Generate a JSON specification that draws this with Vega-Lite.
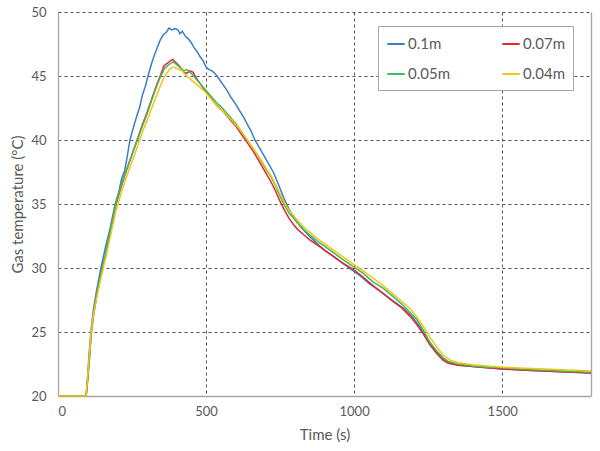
{
"$schema":"https://vega.github.io/schema/vega-lite/v6.json",
"width":533,"height":384,
"autosize":{"type":"none"},
"padding":{"left":58,"top":12,"right":9,"bottom":55},
"background":"white",
"config":{"view":{"stroke":null},"font":"Lato",
"axis":{"labelFont":"Lato","titleFont":"Lato","labelFontSize":13,"titleFontSize":15,"labelColor":"#595959","titleColor":"#595959","titleFontWeight":"normal","ticks":false,"domainColor":"#a6a6a6","domainWidth":1.3,"gridColor":"#555555","gridDash":[3,3],"gridWidth":1}},
"data":{"values":[
{"s":"0.1m","t":0,"T":20},{"s":"0.1m","t":95,"T":20},{"s":"0.1m","t":100,"T":21.5},{"s":"0.1m","t":105,"T":23.3},{"s":"0.1m","t":111,"T":25},{"s":"0.1m","t":120,"T":26.8},{"s":"0.1m","t":130,"T":28.2},{"s":"0.1m","t":145,"T":30},{"s":"0.1m","t":160,"T":31.6},{"s":"0.1m","t":175,"T":33},{"s":"0.1m","t":193,"T":35},{"s":"0.1m","t":205,"T":35.9},{"s":"0.1m","t":215,"T":37},{"s":"0.1m","t":225,"T":37.6},{"s":"0.1m","t":233,"T":38.6},{"s":"0.1m","t":243,"T":40},{"s":"0.1m","t":255,"T":41},{"s":"0.1m","t":265,"T":41.8},{"s":"0.1m","t":275,"T":42.5},{"s":"0.1m","t":285,"T":43.5},{"s":"0.1m","t":295,"T":44.2},{"s":"0.1m","t":304,"T":45},{"s":"0.1m","t":315,"T":45.9},{"s":"0.1m","t":325,"T":46.6},{"s":"0.1m","t":335,"T":47.2},{"s":"0.1m","t":345,"T":47.8},{"s":"0.1m","t":355,"T":48.2},{"s":"0.1m","t":365,"T":48.4},{"s":"0.1m","t":375,"T":48.75},{"s":"0.1m","t":385,"T":48.6},{"s":"0.1m","t":395,"T":48.7},{"s":"0.1m","t":405,"T":48.6},{"s":"0.1m","t":412,"T":48.3},{"s":"0.1m","t":420,"T":48.5},{"s":"0.1m","t":430,"T":48.1},{"s":"0.1m","t":440,"T":47.9},{"s":"0.1m","t":450,"T":47.6},{"s":"0.1m","t":460,"T":47.2},{"s":"0.1m","t":470,"T":46.9},{"s":"0.1m","t":480,"T":46.5},{"s":"0.1m","t":490,"T":46.2},{"s":"0.1m","t":500,"T":45.7},{"s":"0.1m","t":510,"T":45.5},{"s":"0.1m","t":520,"T":45.4},{"s":"0.1m","t":530,"T":45.2},{"s":"0.1m","t":540,"T":44.9},{"s":"0.1m","t":555,"T":44.4},{"s":"0.1m","t":570,"T":43.9},{"s":"0.1m","t":585,"T":43.3},{"s":"0.1m","t":600,"T":42.8},{"s":"0.1m","t":613,"T":42.3},{"s":"0.1m","t":626,"T":41.8},{"s":"0.1m","t":640,"T":41.2},{"s":"0.1m","t":652,"T":40.7},{"s":"0.1m","t":665,"T":40},{"s":"0.1m","t":680,"T":39.4},{"s":"0.1m","t":695,"T":38.8},{"s":"0.1m","t":710,"T":38.2},{"s":"0.1m","t":727,"T":37.5},{"s":"0.1m","t":745,"T":36.5},{"s":"0.1m","t":762,"T":35.5},{"s":"0.1m","t":780,"T":34.6},{"s":"0.1m","t":800,"T":33.8},{"s":"0.1m","t":820,"T":33.2},{"s":"0.1m","t":840,"T":32.7},{"s":"0.1m","t":870,"T":32},{"s":"0.1m","t":900,"T":31.4},{"s":"0.1m","t":930,"T":30.9},{"s":"0.1m","t":960,"T":30.4},{"s":"0.1m","t":990,"T":29.9},{"s":"0.1m","t":1020,"T":29.4},{"s":"0.1m","t":1050,"T":28.8},{"s":"0.1m","t":1080,"T":28.3},{"s":"0.1m","t":1110,"T":27.8},{"s":"0.1m","t":1140,"T":27.3},{"s":"0.1m","t":1170,"T":26.8},{"s":"0.1m","t":1200,"T":26.1},{"s":"0.1m","t":1225,"T":25.3},{"s":"0.1m","t":1250,"T":24.3},{"s":"0.1m","t":1275,"T":23.5},{"s":"0.1m","t":1300,"T":22.9},{"s":"0.1m","t":1320,"T":22.6},{"s":"0.1m","t":1350,"T":22.45},{"s":"0.1m","t":1400,"T":22.3},{"s":"0.1m","t":1450,"T":22.2},{"s":"0.1m","t":1500,"T":22.1},{"s":"0.1m","t":1600,"T":22.0},{"s":"0.1m","t":1700,"T":21.9},{"s":"0.1m","t":1800,"T":21.8},
{"s":"0.07m","t":0,"T":20},{"s":"0.07m","t":95,"T":20},{"s":"0.07m","t":100,"T":21.2},{"s":"0.07m","t":106,"T":22.8},{"s":"0.07m","t":112,"T":24.8},{"s":"0.07m","t":120,"T":26.3},{"s":"0.07m","t":130,"T":27.7},{"s":"0.07m","t":140,"T":28.9},{"s":"0.07m","t":150,"T":30},{"s":"0.07m","t":165,"T":31.5},{"s":"0.07m","t":180,"T":33.2},{"s":"0.07m","t":195,"T":34.9},{"s":"0.07m","t":210,"T":36.1},{"s":"0.07m","t":225,"T":37.2},{"s":"0.07m","t":240,"T":38.2},{"s":"0.07m","t":255,"T":39.2},{"s":"0.07m","t":270,"T":40.2},{"s":"0.07m","t":285,"T":41.2},{"s":"0.07m","t":300,"T":42.1},{"s":"0.07m","t":315,"T":43.1},{"s":"0.07m","t":330,"T":44.1},{"s":"0.07m","t":345,"T":45},{"s":"0.07m","t":358,"T":45.8},{"s":"0.07m","t":370,"T":46.0},{"s":"0.07m","t":380,"T":46.2},{"s":"0.07m","t":388,"T":46.3},{"s":"0.07m","t":395,"T":46.1},{"s":"0.07m","t":405,"T":45.9},{"s":"0.07m","t":415,"T":45.6},{"s":"0.07m","t":425,"T":45.3},{"s":"0.07m","t":435,"T":45.2},{"s":"0.07m","t":445,"T":45.4},{"s":"0.07m","t":456,"T":45.3},{"s":"0.07m","t":465,"T":44.9},{"s":"0.07m","t":480,"T":44.4},{"s":"0.07m","t":495,"T":43.9},{"s":"0.07m","t":510,"T":43.5},{"s":"0.07m","t":525,"T":43.0},{"s":"0.07m","t":540,"T":42.6},{"s":"0.07m","t":555,"T":42.3},{"s":"0.07m","t":570,"T":41.9},{"s":"0.07m","t":585,"T":41.5},{"s":"0.07m","t":600,"T":41.1},{"s":"0.07m","t":615,"T":40.6},{"s":"0.07m","t":630,"T":40.1},{"s":"0.07m","t":645,"T":39.6},{"s":"0.07m","t":660,"T":39.1},{"s":"0.07m","t":675,"T":38.5},{"s":"0.07m","t":690,"T":37.9},{"s":"0.07m","t":705,"T":37.3},{"s":"0.07m","t":720,"T":36.7},{"s":"0.07m","t":735,"T":36.0},{"s":"0.07m","t":750,"T":35.2},{"s":"0.07m","t":765,"T":34.5},{"s":"0.07m","t":780,"T":33.9},{"s":"0.07m","t":795,"T":33.4},{"s":"0.07m","t":810,"T":33.0},{"s":"0.07m","t":830,"T":32.6},{"s":"0.07m","t":850,"T":32.2},{"s":"0.07m","t":875,"T":31.8},{"s":"0.07m","t":900,"T":31.4},{"s":"0.07m","t":930,"T":30.9},{"s":"0.07m","t":960,"T":30.4},{"s":"0.07m","t":997,"T":29.9},{"s":"0.07m","t":1030,"T":29.3},{"s":"0.07m","t":1065,"T":28.6},{"s":"0.07m","t":1099,"T":28.0},{"s":"0.07m","t":1130,"T":27.4},{"s":"0.07m","t":1160,"T":26.9},{"s":"0.07m","t":1190,"T":26.2},{"s":"0.07m","t":1211,"T":25.6},{"s":"0.07m","t":1235,"T":24.8},{"s":"0.07m","t":1256,"T":24.0},{"s":"0.07m","t":1280,"T":23.3},{"s":"0.07m","t":1300,"T":22.8},{"s":"0.07m","t":1318,"T":22.55},{"s":"0.07m","t":1350,"T":22.4},{"s":"0.07m","t":1400,"T":22.3},{"s":"0.07m","t":1450,"T":22.2},{"s":"0.07m","t":1500,"T":22.1},{"s":"0.07m","t":1600,"T":22.0},{"s":"0.07m","t":1700,"T":21.9},{"s":"0.07m","t":1800,"T":21.8},
{"s":"0.05m","t":0,"T":20},{"s":"0.05m","t":95,"T":20},{"s":"0.05m","t":100,"T":21.3},{"s":"0.05m","t":106,"T":23},{"s":"0.05m","t":112,"T":25},{"s":"0.05m","t":120,"T":26.5},{"s":"0.05m","t":130,"T":27.8},{"s":"0.05m","t":140,"T":29},{"s":"0.05m","t":150,"T":30},{"s":"0.05m","t":165,"T":31.6},{"s":"0.05m","t":180,"T":33.3},{"s":"0.05m","t":195,"T":35},{"s":"0.05m","t":210,"T":36.2},{"s":"0.05m","t":225,"T":37.3},{"s":"0.05m","t":240,"T":38.2},{"s":"0.05m","t":255,"T":39.2},{"s":"0.05m","t":270,"T":40.1},{"s":"0.05m","t":285,"T":41.1},{"s":"0.05m","t":300,"T":42},{"s":"0.05m","t":315,"T":43},{"s":"0.05m","t":330,"T":44},{"s":"0.05m","t":345,"T":44.9},{"s":"0.05m","t":360,"T":45.6},{"s":"0.05m","t":375,"T":45.9},{"s":"0.05m","t":388,"T":46.1},{"s":"0.05m","t":395,"T":46.0},{"s":"0.05m","t":405,"T":45.8},{"s":"0.05m","t":415,"T":45.6},{"s":"0.05m","t":425,"T":45.4},{"s":"0.05m","t":435,"T":45.5},{"s":"0.05m","t":445,"T":45.3},{"s":"0.05m","t":455,"T":45.1},{"s":"0.05m","t":465,"T":44.8},{"s":"0.05m","t":480,"T":44.4},{"s":"0.05m","t":495,"T":44.0},{"s":"0.05m","t":510,"T":43.6},{"s":"0.05m","t":525,"T":43.2},{"s":"0.05m","t":540,"T":42.8},{"s":"0.05m","t":555,"T":42.5},{"s":"0.05m","t":570,"T":42.1},{"s":"0.05m","t":585,"T":41.7},{"s":"0.05m","t":600,"T":41.3},{"s":"0.05m","t":615,"T":40.8},{"s":"0.05m","t":630,"T":40.3},{"s":"0.05m","t":645,"T":39.8},{"s":"0.05m","t":660,"T":39.3},{"s":"0.05m","t":675,"T":38.8},{"s":"0.05m","t":690,"T":38.2},{"s":"0.05m","t":705,"T":37.6},{"s":"0.05m","t":720,"T":37.1},{"s":"0.05m","t":735,"T":36.4},{"s":"0.05m","t":750,"T":35.6},{"s":"0.05m","t":765,"T":34.9},{"s":"0.05m","t":780,"T":34.3},{"s":"0.05m","t":795,"T":33.9},{"s":"0.05m","t":810,"T":33.5},{"s":"0.05m","t":830,"T":33.0},{"s":"0.05m","t":850,"T":32.6},{"s":"0.05m","t":875,"T":32.1},{"s":"0.05m","t":900,"T":31.7},{"s":"0.05m","t":930,"T":31.2},{"s":"0.05m","t":960,"T":30.7},{"s":"0.05m","t":997,"T":30.1},{"s":"0.05m","t":1030,"T":29.6},{"s":"0.05m","t":1065,"T":28.9},{"s":"0.05m","t":1099,"T":28.4},{"s":"0.05m","t":1130,"T":27.8},{"s":"0.05m","t":1160,"T":27.2},{"s":"0.05m","t":1190,"T":26.5},{"s":"0.05m","t":1211,"T":26},{"s":"0.05m","t":1235,"T":25.1},{"s":"0.05m","t":1256,"T":24.2},{"s":"0.05m","t":1280,"T":23.5},{"s":"0.05m","t":1300,"T":23.0},{"s":"0.05m","t":1318,"T":22.7},{"s":"0.05m","t":1350,"T":22.5},{"s":"0.05m","t":1400,"T":22.35},{"s":"0.05m","t":1450,"T":22.25},{"s":"0.05m","t":1500,"T":22.2},{"s":"0.05m","t":1600,"T":22.05},{"s":"0.05m","t":1700,"T":21.95},{"s":"0.05m","t":1800,"T":21.85},
{"s":"0.04m","t":0,"T":20},{"s":"0.04m","t":95,"T":20},{"s":"0.04m","t":100,"T":21.5},{"s":"0.04m","t":106,"T":23.2},{"s":"0.04m","t":112,"T":25.1},{"s":"0.04m","t":120,"T":26.4},{"s":"0.04m","t":130,"T":27.6},{"s":"0.04m","t":140,"T":28.7},{"s":"0.04m","t":150,"T":29.7},{"s":"0.04m","t":165,"T":31.2},{"s":"0.04m","t":180,"T":32.8},{"s":"0.04m","t":195,"T":34.4},{"s":"0.04m","t":210,"T":35.6},{"s":"0.04m","t":225,"T":36.7},{"s":"0.04m","t":240,"T":37.7},{"s":"0.04m","t":255,"T":38.6},{"s":"0.04m","t":270,"T":39.6},{"s":"0.04m","t":285,"T":40.6},{"s":"0.04m","t":300,"T":41.5},{"s":"0.04m","t":315,"T":42.4},{"s":"0.04m","t":330,"T":43.3},{"s":"0.04m","t":345,"T":44.2},{"s":"0.04m","t":358,"T":44.9},{"s":"0.04m","t":370,"T":45.3},{"s":"0.04m","t":380,"T":45.6},{"s":"0.04m","t":390,"T":45.7},{"s":"0.04m","t":400,"T":45.6},{"s":"0.04m","t":410,"T":45.5},{"s":"0.04m","t":420,"T":45.4},{"s":"0.04m","t":430,"T":45.1},{"s":"0.04m","t":440,"T":44.9},{"s":"0.04m","t":450,"T":44.7},{"s":"0.04m","t":465,"T":44.4},{"s":"0.04m","t":480,"T":44.1},{"s":"0.04m","t":495,"T":43.8},{"s":"0.04m","t":510,"T":43.4},{"s":"0.04m","t":525,"T":43.0},{"s":"0.04m","t":540,"T":42.6},{"s":"0.04m","t":555,"T":42.3},{"s":"0.04m","t":570,"T":41.9},{"s":"0.04m","t":585,"T":41.6},{"s":"0.04m","t":600,"T":41.2},{"s":"0.04m","t":615,"T":40.8},{"s":"0.04m","t":630,"T":40.3},{"s":"0.04m","t":645,"T":39.8},{"s":"0.04m","t":660,"T":39.3},{"s":"0.04m","t":675,"T":38.8},{"s":"0.04m","t":690,"T":38.3},{"s":"0.04m","t":705,"T":37.7},{"s":"0.04m","t":720,"T":37.2},{"s":"0.04m","t":735,"T":36.5},{"s":"0.04m","t":750,"T":35.8},{"s":"0.04m","t":765,"T":35.1},{"s":"0.04m","t":780,"T":34.5},{"s":"0.04m","t":795,"T":34.1},{"s":"0.04m","t":810,"T":33.7},{"s":"0.04m","t":830,"T":33.2},{"s":"0.04m","t":850,"T":32.8},{"s":"0.04m","t":875,"T":32.3},{"s":"0.04m","t":900,"T":31.9},{"s":"0.04m","t":930,"T":31.4},{"s":"0.04m","t":960,"T":30.9},{"s":"0.04m","t":997,"T":30.3},{"s":"0.04m","t":1030,"T":29.8},{"s":"0.04m","t":1065,"T":29.2},{"s":"0.04m","t":1099,"T":28.6},{"s":"0.04m","t":1130,"T":28.0},{"s":"0.04m","t":1160,"T":27.4},{"s":"0.04m","t":1190,"T":26.8},{"s":"0.04m","t":1211,"T":26.2},{"s":"0.04m","t":1235,"T":25.4},{"s":"0.04m","t":1256,"T":24.6},{"s":"0.04m","t":1280,"T":23.8},{"s":"0.04m","t":1300,"T":23.2},{"s":"0.04m","t":1325,"T":22.8},{"s":"0.04m","t":1350,"T":22.6},{"s":"0.04m","t":1400,"T":22.45},{"s":"0.04m","t":1450,"T":22.35},{"s":"0.04m","t":1500,"T":22.25},{"s":"0.04m","t":1600,"T":22.15},{"s":"0.04m","t":1700,"T":22.05},{"s":"0.04m","t":1800,"T":21.95}
]},
"encoding":{
"x":{"field":"t","type":"quantitative","scale":{"domain":[0,1800],"nice":false},"axis":{"title":"Time (s)","values":[0,500,1000,1500],"format":"d","grid":true,"labelPadding":9,"titlePadding":9}}
},
"layer":[
{"mark":{"type":"line","strokeWidth":1.5,"interpolate":"linear"},
"encoding":{
"y":{"field":"T","type":"quantitative","scale":{"domain":[20,50],"nice":false,"zero":false},"axis":{"title":"Gas temperature (°C)","values":[20,25,30,35,40,45,50],"grid":true,"labelPadding":12,"titlePadding":5}},
"color":{"field":"s","type":"nominal","scale":{"domain":["0.1m","0.05m","0.07m","0.04m"],"range":["#3a7fc4","#3dbb5e","#e8262c","#f2c414"]},
"legend":{"title":null,"orient":"none","legendX":320,"legendY":14,"columns":2,"symbolType":"stroke","symbolStrokeWidth":2,"symbolSize":300,"labelFont":"Lato","labelFontSize":15,"labelColor":"#595959","strokeColor":"#a6a6a6","fillColor":"white","padding":8,"rowPadding":12,"columnPadding":48,"labelOffset":2}}
}},
{"mark":{"type":"line","opacity":0},
"encoding":{
"y":{"field":"T","type":"quantitative","axis":{"orient":"right","title":null,"labels":false,"ticks":false,"grid":false,"domain":true}}
}}
],
"resolve":{"axis":{"y":"independent"}}
}
